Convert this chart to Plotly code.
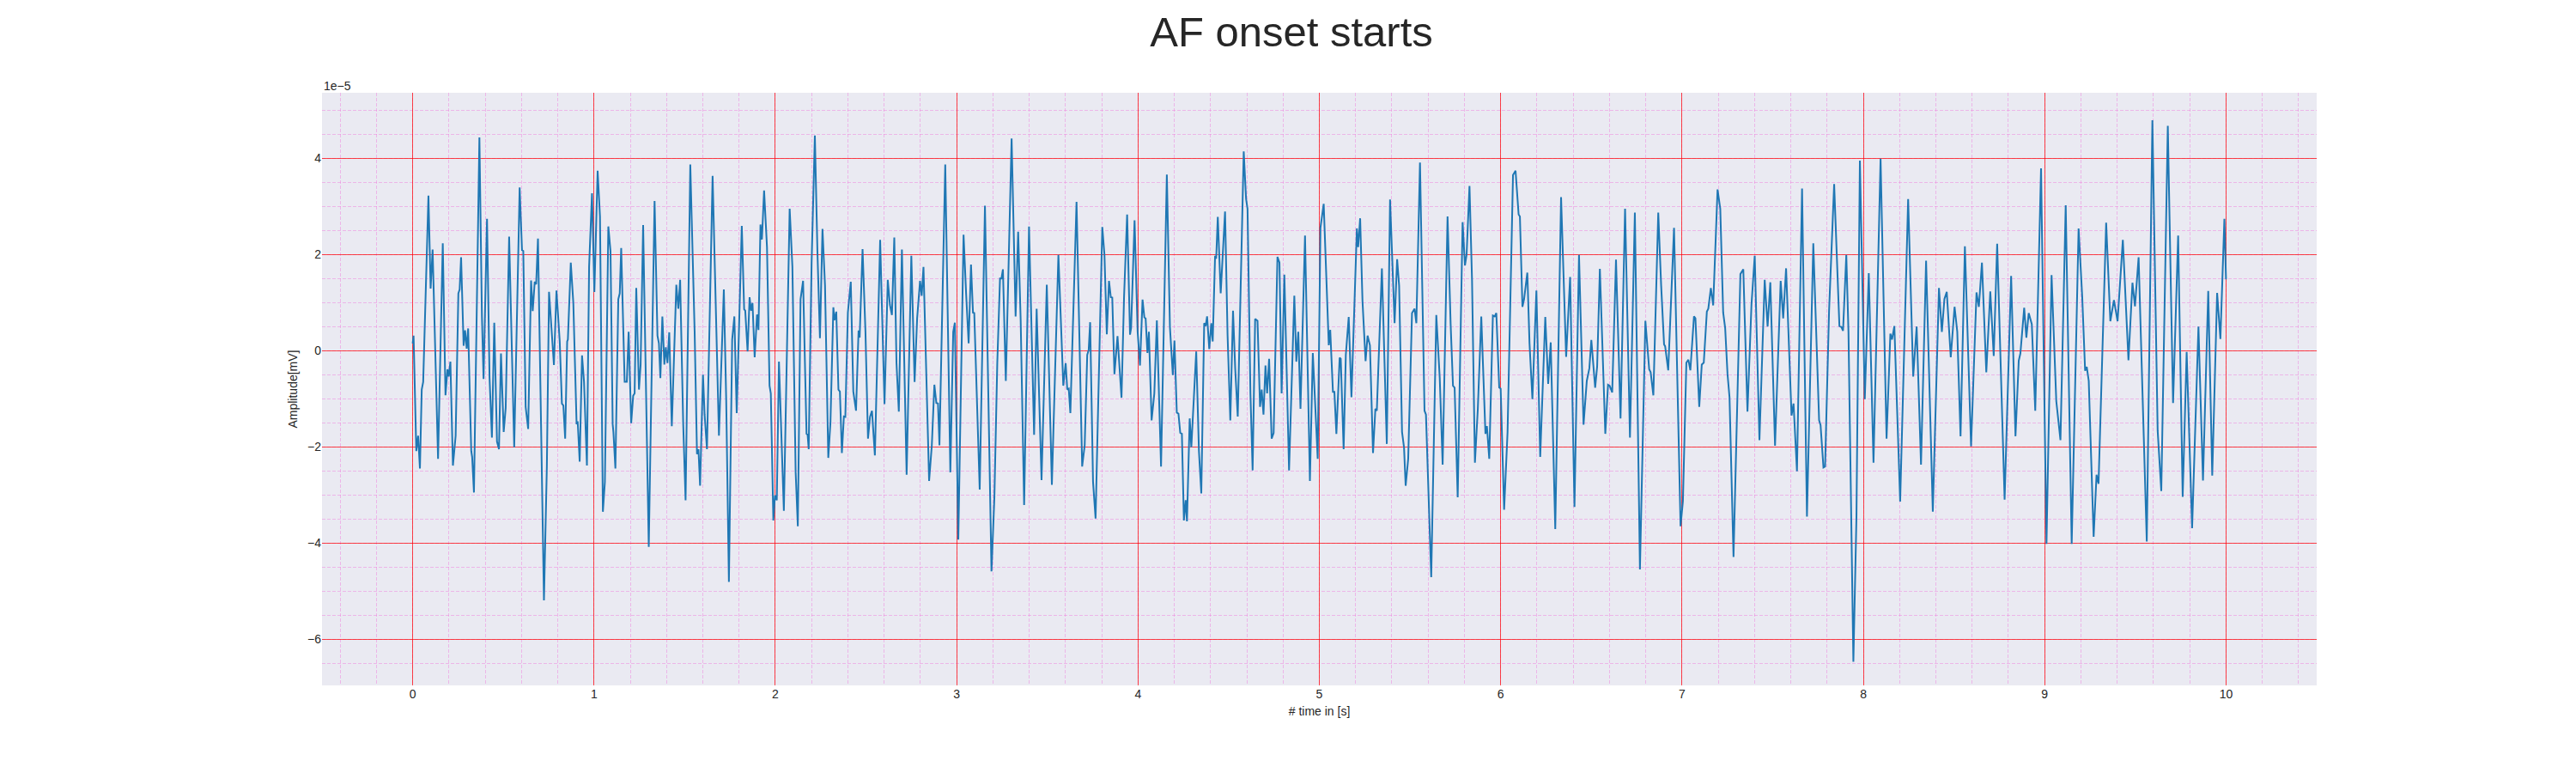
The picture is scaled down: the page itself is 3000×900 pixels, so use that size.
import plotly.graph_objects as go

# ECG trace (time in s, amplitude in units of 1e-5 mV)
time_s = [
    0.0, 0.005, 0.02, 0.03, 0.04, 0.05, 0.058, 0.087, 0.099, 0.11, 0.14, 0.166, 0.181, 0.192, 0.199,
    0.208, 0.222, 0.237, 0.252, 0.259, 0.267, 0.281, 0.289, 0.298, 0.306, 0.323, 0.328, 0.338, 0.368,
    0.382, 0.391, 0.41, 0.424, 0.437, 0.45, 0.465, 0.476, 0.487, 0.502, 0.513, 0.532, 0.56, 0.59,
    0.603, 0.61, 0.623, 0.637, 0.653, 0.662, 0.673, 0.681, 0.691, 0.724, 0.74, 0.752, 0.765, 0.779,
    0.793, 0.811, 0.823, 0.831, 0.841, 0.852, 0.856, 0.872, 0.886, 0.904, 0.91, 0.921, 0.934, 0.945,
    0.961, 0.973, 0.989, 1.002, 1.02, 1.033, 1.049, 1.06, 1.079, 1.091, 1.103, 1.107, 1.118, 1.134,
    1.142, 1.15, 1.169, 1.181, 1.191, 1.205, 1.216, 1.224, 1.233, 1.248, 1.257, 1.271, 1.302,
    1.334, 1.35, 1.358, 1.366, 1.377, 1.388, 1.396, 1.405, 1.415, 1.429, 1.443, 1.454, 1.465, 1.475,
    1.492, 1.505, 1.531, 1.555, 1.568, 1.576, 1.585, 1.601, 1.61, 1.623, 1.654, 1.67, 1.689, 1.716,
    1.729, 1.744, 1.762, 1.774, 1.787, 1.815, 1.828, 1.834, 1.847, 1.858, 1.866, 1.874, 1.886, 1.899,
    1.907, 1.918, 1.926, 1.938, 1.954, 1.968, 1.975, 1.989, 1.998, 2.008, 2.02, 2.047, 2.079, 2.094,
    2.112, 2.124, 2.139, 2.153, 2.172, 2.178, 2.184, 2.2, 2.218, 2.232, 2.246, 2.26, 2.274, 2.292,
    2.304, 2.32, 2.326, 2.336, 2.348, 2.356, 2.367, 2.378, 2.386, 2.4, 2.416, 2.43, 2.445, 2.459,
    2.465, 2.481, 2.497, 2.511, 2.522, 2.533, 2.549, 2.578,
    2.602, 2.62, 2.632, 2.643, 2.656, 2.668, 2.681, 2.698, 2.724, 2.75, 2.768, 2.782, 2.798, 2.807,
    2.817, 2.848, 2.863, 2.877, 2.888, 2.897, 2.905, 2.937, 2.965, 2.981, 2.99, 3.009, 3.038, 3.052,
    3.066, 3.079, 3.09, 3.097, 3.11, 3.127, 3.156, 3.192, 3.208, 3.224, 3.239, 3.247, 3.255, 3.271,
    3.303, 3.325, 3.339, 3.353, 3.372, 3.399, 3.427, 3.441, 3.468, 3.497, 3.525, 3.561, 3.588, 3.601,
    3.61, 3.618, 3.627, 3.661, 3.692, 3.706, 3.72, 3.728, 3.736, 3.752, 3.766, 3.803, 3.815, 3.828,
    3.84, 3.85, 3.858, 3.87, 3.887,
    3.909, 3.923, 3.94, 3.956, 3.962, 3.981, 3.998, 4.011, 4.025, 4.035, 4.042, 4.052, 4.06, 4.075,
    4.09, 4.104, 4.127, 4.159, 4.176, 4.192, 4.201, 4.214, 4.223, 4.233, 4.242, 4.253, 4.263, 4.27,
    4.285, 4.294, 4.305, 4.321, 4.336, 4.349, 4.365, 4.373, 4.381, 4.393, 4.404, 4.412, 4.425, 4.431,
    4.44, 4.456, 4.48, 4.494, 4.509, 4.524, 4.536, 4.55, 4.583, 4.596, 4.604, 4.62, 4.632, 4.646,
    4.659, 4.673, 4.682, 4.692, 4.703, 4.712, 4.723, 4.737, 4.748, 4.769, 4.78, 4.792, 4.807, 4.833,
    4.862, 4.873, 4.884, 4.896, 4.921, 4.948, 4.964, 4.976, 4.991, 5.006, 5.024, 5.052, 5.06, 5.075,
    5.083, 5.094, 5.112, 5.118, 5.134, 5.146, 5.162, 5.177,
    5.207, 5.214, 5.225, 5.238, 5.255, 5.266, 5.279, 5.296, 5.309, 5.317, 5.345, 5.372, 5.39, 5.415,
    5.429, 5.44, 5.456, 5.467, 5.476, 5.49, 5.511, 5.525, 5.535, 5.555, 5.569, 5.58, 5.588, 5.617,
    5.645, 5.664, 5.68, 5.707, 5.724, 5.737, 5.746, 5.763, 5.79, 5.803, 5.812, 5.828, 5.842, 5.858,
    5.874, 5.893, 5.916, 5.924, 5.937, 5.957, 5.967, 5.976, 5.992, 6.0, 6.019, 6.038, 6.068, 6.082,
    6.099, 6.106, 6.12, 6.129, 6.147, 6.159, 6.175, 6.197, 6.218, 6.246, 6.262, 6.276, 6.301, 6.333,
    6.361, 6.383, 6.407, 6.432, 6.457, 6.475, 6.489, 6.5,
    6.521, 6.532, 6.547, 6.577, 6.592, 6.601, 6.615, 6.636, 6.661, 6.686, 6.713, 6.74, 6.768, 6.798,
    6.819, 6.827, 6.842, 6.869, 6.885, 6.901, 6.907, 6.924, 6.956, 6.975, 6.992, 7.005, 7.024, 7.035,
    7.046, 7.066, 7.074, 7.095, 7.109, 7.12, 7.137, 7.145, 7.159, 7.172, 7.181, 7.196, 7.211, 7.227,
    7.238, 7.251, 7.262, 7.284, 7.304, 7.322, 7.338, 7.361, 7.383, 7.401, 7.427, 7.456, 7.472, 7.487,
    7.513, 7.544, 7.558, 7.574, 7.604, 7.615, 7.634, 7.662, 7.689, 7.724, 7.756, 7.764, 7.78,
    7.789, 7.811, 7.839, 7.868, 7.879, 7.888, 7.906, 7.918, 7.945, 7.962, 7.981, 8.008, 8.03, 8.056,
    8.095, 8.128, 8.149, 8.158, 8.171, 8.203, 8.247, 8.275, 8.294, 8.318, 8.346, 8.383, 8.417, 8.433,
    8.447, 8.46, 8.482, 8.503, 8.518, 8.536, 8.56, 8.594, 8.624, 8.637, 8.654, 8.678, 8.7, 8.719,
    8.738, 8.779, 8.815, 8.839, 8.857, 8.866, 8.887, 8.899, 8.912, 8.929, 8.948, 8.98, 9.01, 9.038,
    9.064, 9.087,
    9.116, 9.149, 9.187, 9.207, 9.223, 9.232, 9.243, 9.27, 9.286, 9.297, 9.339, 9.362, 9.382, 9.402,
    9.431, 9.462, 9.484, 9.498, 9.518, 9.563, 9.594, 9.623, 9.643, 9.679, 9.708, 9.736, 9.761, 9.783,
    9.813, 9.848, 9.873, 9.902, 9.924, 9.951, 9.969, 9.991, 10.0,
]

amplitude_e5 = [
    0.15, 0.31, -2.09, -1.77, -2.45, -0.81, -0.65, 3.22, 1.29, 2.10, -2.25, 2.23, -0.93, -0.39, -0.54,
    -0.23, -2.39, -1.77, 1.19, 1.27, 1.94, 0.10, 0.42, 0.04, 0.46, -2.09, -2.21, -2.95, 4.43,
    0.71, -0.59, 2.74, -0.57, -1.81, 0.58, -1.89, -2.05, -0.06, -1.69, -1.19, 2.37, -2.01, 3.39,
    2.09, 2.07, -1.17, -1.63, 1.46, 0.82, 1.43, 1.38, 2.33, -5.19, -2.41, 1.22, 0.51, -0.30,
    1.25, 0.19, -1.10, -1.14, -1.83, 0.19, 0.23, 1.83, 0.99, -1.53, -1.47, -2.31, -0.10, -0.65,
    -2.39, 1.75, 3.27, 1.22, 3.74, 2.79, -3.35, -2.73, 2.58, 2.07, -1.53, -1.69, -2.45, 1.07,
    1.19, 2.13, -0.65, -0.65, 0.39, -1.51, -0.94, -0.89, 1.30, -0.81, -0.30, 2.61, -4.08,
    3.11, 0.31, 0.15, -0.57, 0.71, -0.29, 0.07, -0.26, 0.38, -1.57, -0.09, 1.37, 0.87, 1.47,
    -1.53, -3.11, 3.87, 0.39, -2.15, -2.05, -2.81, -0.50, -1.33, -2.05, 3.63, 1.31, -1.77, 1.27,
    -1.01, -4.81, 0.23, 0.71, -1.30, 2.59, 0.86, 0.83, -0.02, 1.11, 0.83, 0.99, -0.14, 0.75,
    0.43, 2.62, 2.31, 3.33, 2.15, -0.73, -0.89, -3.53, -3.01, -3.11, -0.23, -3.33, 2.95, 1.75,
    -2.53, -3.65, 1.07, 1.45, -1.73, -1.75, -2.05, 1.83, 4.47, 2.07, 0.26, 2.53, 1.35, -2.23,
    -1.49, 0.90, 0.63, 0.81, -0.81, -0.85, -2.13, -1.37, -1.38, 0.79, 1.43, -0.85, -1.25, 0.42,
    0.27, 2.11, 0.39, -1.83, -1.38, -1.25, -2.18, 2.30,
    -1.11, 1.47, 0.95, 0.74, 2.35, -0.25, -1.27, 2.10, -2.58, 1.97, -0.65, 0.67, 1.45, 1.14,
    1.74, -2.71, -1.97, -0.71, -1.09, -1.10, -1.97, 3.87, -2.53, 0.39, 0.58, -3.93, 2.41, 1.19,
    0.15, 1.79, 0.79, 0.78, -0.81, -2.89, 3.01, -4.59, -3.05, -0.25, 1.50, 1.50, 1.69, -0.63,
    4.41, 0.71, 2.47, 0.63, -3.21, 2.58, -1.75, 0.87, -2.69, 1.37, -2.79, 1.99, -0.73, -0.26,
    -0.81, -0.79, -1.30, 3.09, -2.41, -1.97, -0.09, 0.01, 0.59, -2.73, -3.49, 2.57, 1.99, 0.34,
    1.45, 1.11, 1.10, -0.49, 0.30,
    -0.98, 1.11, 2.83, 0.33, 0.47, 2.71, 0.39, -0.31, 1.06, 0.69, 0.67, -0.05, 0.39, -1.45,
    -0.89, 0.63, -2.41, 3.66, 0.49, -0.51, 0.21, -1.29, -1.31, -1.71, -1.73, -3.53, -3.11, -3.55,
    -1.41, -2.01, -1.09, -0.02, -2.09, -2.97, 0.57, 0.51, 0.71, 0.03, 0.57, 0.19, 1.97, 1.91,
    2.78, 1.19, 2.89, 0.31, -1.45, 0.83, -0.37, -1.37, 4.14, 3.15, 2.95, -0.89, -2.49, 0.66,
    0.62, -1.17, -0.81, -1.33, -0.31, -0.89, -0.17, -1.83, -1.71, 1.95, 1.83, -0.89, 1.58, -2.49,
    1.14, -0.23, 0.39, -1.21, 2.39, -2.71, -0.05, -1.09, -2.25, 2.55, 3.05, 0.11, 0.43, -0.86,
    -0.86, -1.73, -0.15, -0.17, -2.05, -0.09, 0.70, -0.97,
    2.54, 2.15, 2.75, 1.03, -0.22, 0.31, 0.11, -2.13, -1.21, -1.25, 1.71, -1.94, 3.14, 0.57,
    1.90, 1.35, -1.69, -2.01, -2.81, -2.25, 0.78, 0.87, 0.57, 3.91, 1.15, -1.25, -1.33, -4.71,
    0.74, -0.57, -2.37, 2.79, 0.55, -0.73, -0.77, -3.05, 2.67, 1.77, 1.99, 3.42, 1.47, -2.33,
    -1.21, 0.71, -1.73, -1.57, -2.25, 0.73, 0.71, 0.78, -0.77, -0.79, -3.31, -1.69, 3.65, 3.74,
    2.83, 2.79, 0.91, 1.07, 1.62, 0.15, -1.01, 1.25, -2.21, 0.70, -0.69, 0.17, -3.71, 3.19,
    -0.13, 1.53, -3.25, 1.99, -1.54, -0.63, -0.37, 0.22,
    -0.77, -0.33, 1.70, -1.73, -0.71, -0.73, -0.87, 1.89, -1.41, 2.95, -1.81, 2.87, -4.55, 0.62,
    -0.39, -0.45, -0.93, 2.87, 1.35, 0.13, 0.09, -0.41, 2.55, -0.81, -3.65, -3.13, -0.25, -0.19,
    -0.41, 0.71, 0.67, -1.17, -0.29, -0.25, 0.81, 0.87, 1.30, 0.94, 1.87, 3.35, 2.95, 0.79,
    0.47, -0.49, -0.97, -4.29, -1.21, 1.59, 1.69, -1.27, 0.95, 1.97, -1.86, 1.47, 0.50, 1.42,
    -1.98, 1.45, 0.67, 1.71, -1.35, -1.10, -2.51, 3.37, -3.45, 2.23, -1.45, -1.55, -2.43,
    -2.41, 0.83, 3.46, 0.51, 0.49, 0.41, 1.99, 0.39, -6.47, -3.45, 3.95, -1.01, 1.61, -2.33,
    3.99, -1.83, 0.35, 0.23, 0.51, -3.14, 3.15, -0.54, 0.50, -2.37, 1.87, -3.35, 1.30, 0.39,
    1.07, 1.22, -0.14, 0.91, 0.39, -1.78, 2.17, -1.99, 1.21, 0.91, 1.83, -0.45, 1.23, -0.11,
    2.22, -3.10, 1.55, -1.78, -0.21, -0.06, 0.89, 0.27, 0.78, 0.55, -1.25, 3.79, -4.02, 1.57,
    -1.05, -1.86,
    3.02, -4.02, 2.54, 1.12, -0.42, -0.34, -0.63, -3.87, -2.58, -2.77, 2.66, 0.61, 1.05, 0.61,
    2.30, -0.20, 1.41, 0.92, 1.94, -3.97, 4.79, -1.66, -2.92, 4.67, -1.09, 2.39, -3.04, -0.03,
    -3.69, 0.50, -2.70, 1.24, -2.60, 1.20, 0.24, 2.74, 1.48,
]

x_ticks = list(range(0, 11))
y_ticks = [-6, -4, -2, 0, 2, 4]

FONT = "Liberation Sans, Arial, sans-serif"
TEXT = "#262626"

# the page body adds an 8px margin, so the figure is 8px smaller than the window
W, H = 2992, 892

fig = go.Figure()
fig.add_trace(go.Scatter(
    x=time_s,
    y=amplitude_e5,
    mode="lines",
    line=dict(color="#1f77b4", width=2),
    showlegend=False,
))

fig.update_layout(
    width=W,
    height=H,
    margin=dict(l=367, r=302, t=100, b=102),
    paper_bgcolor="white",
    plot_bgcolor="#EAEAF2",
    font=dict(family=FONT, size=14, color=TEXT),
    title=dict(
        text="AF onset starts",
        x=0.5,
        xanchor="center",
        y=1 - 29 / H,
        yanchor="middle",
        font=dict(size=49, color=TEXT),
    ),
    showlegend=False,
)

fig.update_xaxes(
    range=[-0.5, 10.5],
    tickvals=x_ticks,
    ticks="",
    showline=False,
    zeroline=False,
    showgrid=True,
    gridcolor="rgba(255,0,0,0.7)",
    gridwidth=1,
    minor=dict(tick0=0, dtick=0.2, showgrid=True, gridcolor="rgba(240,120,220,0.45)",
               gridwidth=1, griddash="4px,2px"),
    title=dict(text="# time in [s]", standoff=8, font=dict(size=14)),
    tickfont=dict(size=14),
)

fig.update_yaxes(
    range=[-6.96, 5.36],
    tickvals=y_ticks,
    ticks="",
    showline=False,
    zeroline=False,
    showgrid=True,
    gridcolor="rgba(255,0,0,0.7)",
    gridwidth=1,
    minor=dict(tick0=0, dtick=0.5, showgrid=True, gridcolor="rgba(240,120,220,0.45)",
               gridwidth=1, griddash="4px,2px"),
    title=dict(text="Amplitude[mV]", standoff=8, font=dict(size=14)),
    tickfont=dict(size=14),
)

# matplotlib style offset label for the y axis
fig.add_annotation(
    text="1e\u22125",
    xref="paper", yref="paper",
    x=0, y=1,
    xanchor="left", yanchor="bottom",
    yshift=-2,
    showarrow=False,
    font=dict(size=14, color=TEXT),
)

fig.write_html("out.html")
